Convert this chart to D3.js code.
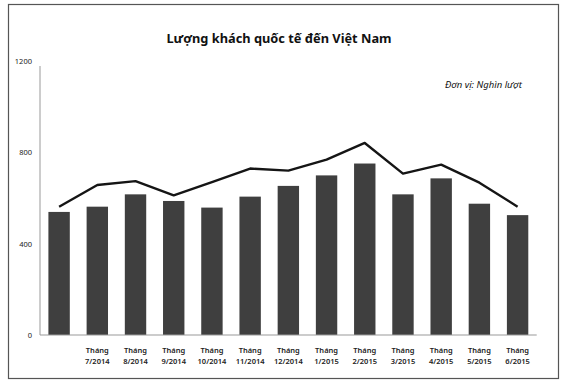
<!DOCTYPE html>
<html>
<head>
<meta charset="utf-8">
<script src="https://cdn.jsdelivr.net/npm/d3@7"></script>
<style>
  body { margin: 0; background: #fff; }
  svg { display: block; font-family: "Noto Sans", sans-serif; }
</style>
</head>
<body>
<div id="wrapper"></div>
<script>
const months = ["", "7/2014", "8/2014", "9/2014", "10/2014", "11/2014", "12/2014",
  "1/2015", "2/2015", "3/2015", "4/2015", "5/2015", "6/2015"];
const barValues = [539, 562, 616, 587, 558, 606, 653, 699, 751, 616, 686, 575, 525];
const lineValues = [562, 657, 674, 612, 670, 729, 720, 768, 841, 707, 746, 667, 562];
const yTicks = [0, 400, 800, 1200];

const width = 570, height = 387;

const svg = d3.select("#wrapper")
  .append("svg")
  .attr("width", width)
  .attr("height", height);

// outer frame
svg.append("rect")
  .attr("x", 8.5).attr("y", 4.5)
  .attr("width", 550).attr("height", 374)
  .attr("fill", "#fff")
  .attr("stroke", "#555")
  .attr("stroke-width", 1.2);

const xScale = d3.scaleBand()
  .domain(d3.range(months.length))
  .range([40, 536.7])
  .paddingInner(0.44)
  .paddingOuter(0.22);

const yScale = d3.scaleLinear()
  .domain([0, 1200])
  .range([335, 61]);

// title
svg.append("text")
  .attr("x", 279).attr("y", 43)
  .attr("text-anchor", "middle")
  .attr("font-size", 12.8)
  .attr("font-weight", "bold")
  .attr("fill", "#111")
  .text("Lượng khách quốc tế đến Việt Nam");

svg.append("text")
  .attr("x", 522).attr("y", 88)
  .attr("text-anchor", "end")
  .attr("font-size", 9.5)
  .attr("font-style", "italic")
  .attr("fill", "#111")
  .text("Đơn vị: Nghìn lượt");

// y tick labels
svg.append("g")
  .selectAll("text")
  .data(yTicks)
  .join("text")
  .attr("x", 32)
  .attr("y", (d) => yScale(d) + 3)
  .attr("text-anchor", "end")
  .attr("font-size", 7.5)
  .attr("fill", "#222")
  .text((d) => d);

// bars
svg.append("g")
  .selectAll("rect")
  .data(barValues)
  .join("rect")
  .attr("x", (d, i) => xScale(i))
  .attr("y", (d) => yScale(d))
  .attr("width", xScale.bandwidth())
  .attr("height", (d) => yScale(0) - yScale(d))
  .attr("fill", "#3f3f3f");

// axes lines
svg.append("line")
  .attr("x1", 40).attr("x2", 40)
  .attr("y1", 66).attr("y2", yScale(0))
  .attr("stroke", "#999").attr("stroke-width", 1);
svg.append("line")
  .attr("x1", 40).attr("x2", 536.7)
  .attr("y1", yScale(0)).attr("y2", yScale(0))
  .attr("stroke", "#999").attr("stroke-width", 1.2);

// line series
const line = d3.line()
  .x((d, i) => xScale(i) + xScale.bandwidth() / 2)
  .y((d) => yScale(d));

svg.append("path")
  .datum(lineValues)
  .attr("d", line)
  .attr("fill", "none")
  .attr("stroke", "#151515")
  .attr("stroke-width", 2.4)
  .attr("stroke-linejoin", "round");

// x labels
const xLabels = svg.append("g")
  .selectAll("text")
  .data(months.map((m, i) => ({ m, i })).filter((d) => d.m !== ""))
  .join("text")
  .attr("text-anchor", "middle")
  .attr("font-size", 7.5)
  .attr("font-weight", 600)
  .attr("fill", "#222");
xLabels.append("tspan")
  .attr("x", (d) => xScale(d.i) + xScale.bandwidth() / 2)
  .attr("y", 353)
  .text("Tháng");
xLabels.append("tspan")
  .attr("x", (d) => xScale(d.i) + xScale.bandwidth() / 2)
  .attr("y", 364)
  .text((d) => d.m);
</script>
</body>
</html>
